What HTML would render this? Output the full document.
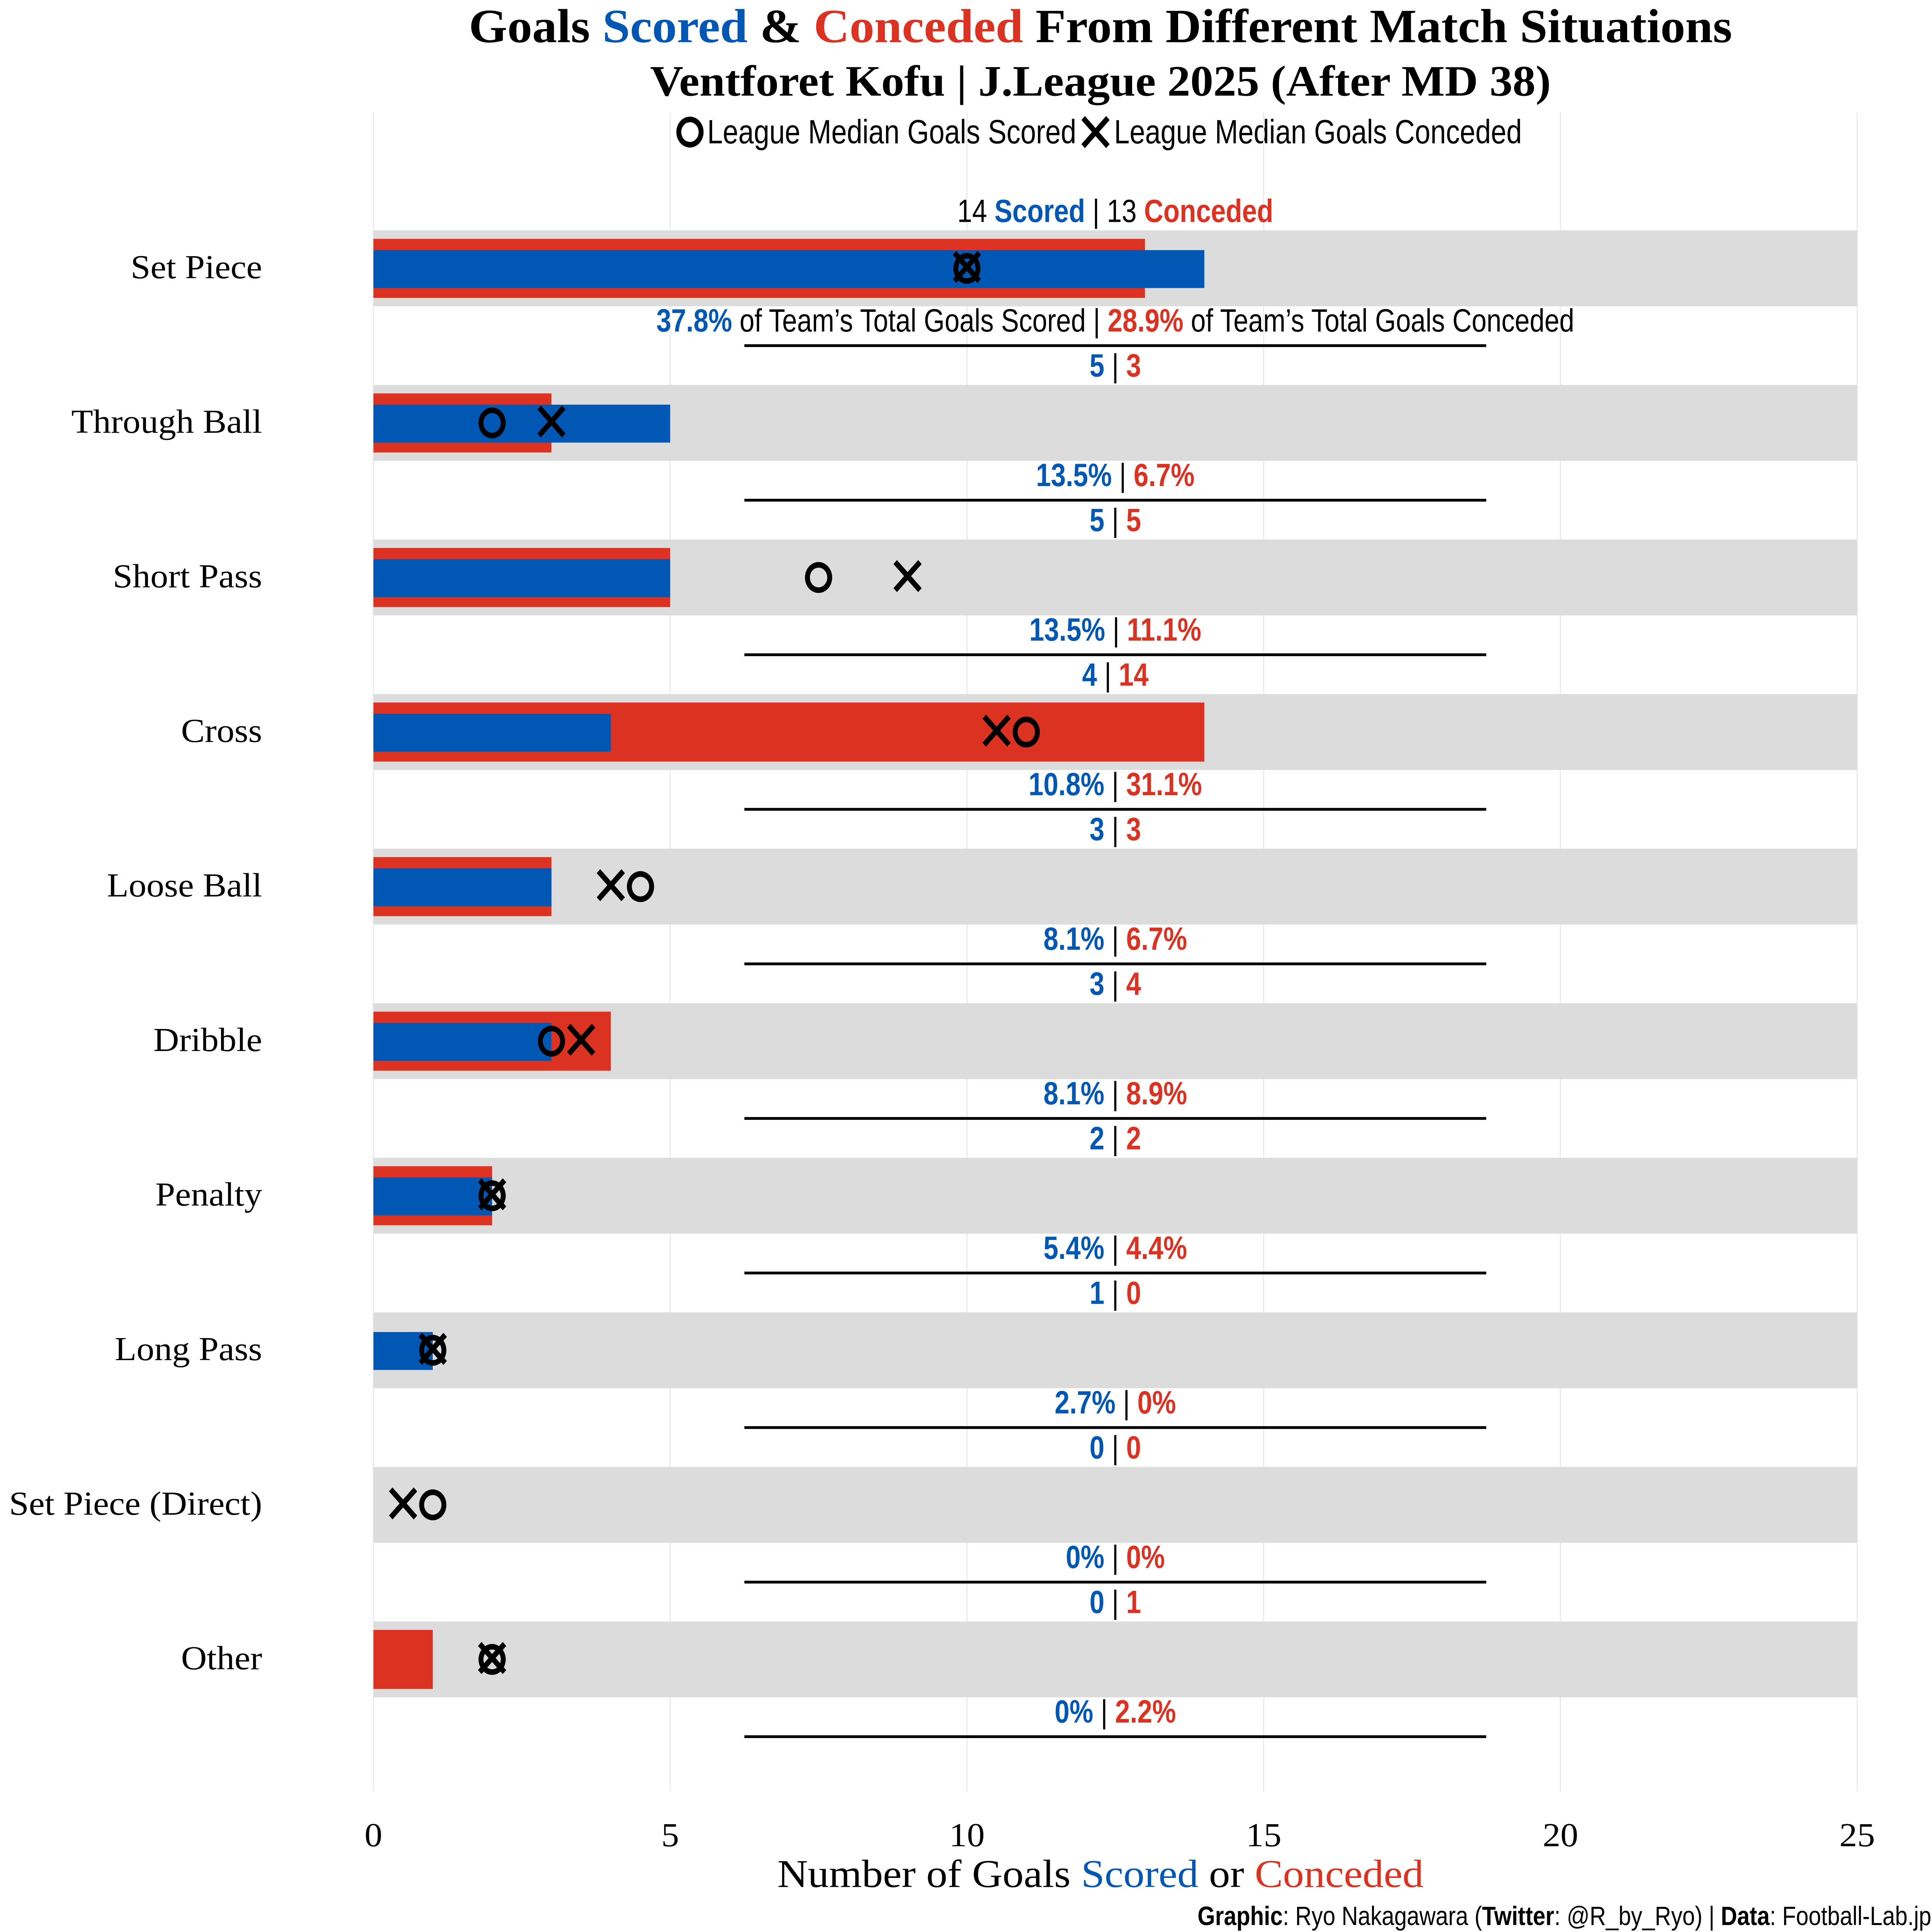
<!DOCTYPE html>
<html><head><meta charset="utf-8"><style>
html,body{margin:0;padding:0;background:#fff;overflow:hidden;width:100%;height:100%;}
svg{display:block;width:100vw;height:100vh;}
.serif{font-family:"Liberation Serif","DejaVu Serif",serif;}
.cond{font-family:"Liberation Sans Narrow","Liberation Sans",sans-serif;}
</style></head><body>
<svg id="chart" viewBox="0 0 1562.5 1375" preserveAspectRatio="none" xmlns="http://www.w3.org/2000/svg">
<text class="serif" transform="translate(890,30) scale(1.18,1)" text-anchor="middle" font-size="34" font-weight="bold">Goals <tspan fill="#0057b4">Scored</tspan> &amp; <tspan fill="#dc3222">Conceded</tspan> From Different Match Situations</text>
<text class="serif" transform="translate(890,68) scale(1.2,1)" text-anchor="middle" font-size="31" font-weight="bold">Ventforet Kofu | J.League 2025 (After MD 38)</text>
<g>
<circle cx="558" cy="94" r="9" fill="none" stroke="#000" stroke-width="4"/>
<text class="cond" transform="translate(572,102) scale(0.94,1)" font-size="24">League Median Goals Scored</text>
<path d="M876 84 L896 104 M896 84 L876 104" stroke="#000" stroke-width="4"/>
<text class="cond" transform="translate(901,102) scale(0.94,1)" font-size="24">League Median Goals Conceded</text>
</g>
<g id="grid"></g><g id="rows"></g><g id="xaxis"></g>
<text class="serif" transform="translate(890,1343) scale(1.22,1)" text-anchor="middle" font-size="28">Number of Goals <tspan fill="#0057b4">Scored</tspan> or <tspan fill="#dc3222">Conceded</tspan></text>
<text class="cond" transform="translate(1562,1370) scale(0.96,1)" text-anchor="end" font-size="19"><tspan font-weight="bold">Graphic</tspan>: Ryo Nakagawara (<tspan font-weight="bold">Twitter</tspan>: @R_by_Ryo) | <tspan font-weight="bold">Data</tspan>: Football-Lab.jp</text>
</svg>
<script>
const categories=["Set Piece","Through Ball","Short Pass","Cross","Loose Ball","Dribble","Penalty","Long Pass","Set Piece (Direct)","Other"];
const scored=[14,5,5,4,3,3,2,1,0,0];
const conceded=[13,3,5,14,3,4,2,0,0,1];
const medianScored=[10,2,7.5,11,4.5,3,2,1,1,2];
const medianConceded=[10,3,9,10.5,4,3.5,2,1,0.5,2];
const ticks=[0,5,10,15,20,25];
const NS="http://www.w3.org/2000/svg";
const X0=302,X1=1502,XMAX=25;
const xs=v=>X0+(X1-X0)*v/XMAX;
const yc=i=>190+110*i;
const BLUE="#0057b4",RED="#dc3222";
function mk(tag,attrs,parent,text){const e=document.createElementNS(NS,tag);for(const k in attrs)e.setAttribute(k,attrs[k]);if(text!==undefined)e.textContent=text;parent.appendChild(e);return e;}
const grid=document.getElementById('grid'),rows=document.getElementById('rows'),xaxis=document.getElementById('xaxis');
ticks.forEach(t=>{
 const l=mk('line',{x1:xs(t),x2:xs(t),y1:80,y2:1275,stroke:'#ebebeb','stroke-width':1},grid);
 
 
 const tx=mk('text',{transform:`translate(${xs(t)},1314) scale(1.2,1)`,'text-anchor':'middle','font-size':24,class:'serif'},xaxis,String(t));
 
 
});
const totS=scored.reduce((a,b)=>a+b,0),totC=conceded.reduce((a,b)=>a+b,0);
const pct=(v,t)=>v===0?'0%':(100*v/t).toFixed(1)+'%';
function spanT(parent,txt,fill,bold){const s=mk('tspan',{fill:fill},parent,txt);if(bold)s.setAttribute('font-weight','bold');return s;}
categories.forEach((c,i)=>{
 const y=yc(i);
 const g=mk('g',{},rows);
 
 
 const bg=mk('rect',{x:X0,y:y-26,width:X1-X0,height:54,fill:'#dcdcdc'},g);
 
 
 const rb=mk('rect',{x:X0,y:y-20,width:xs(conceded[i])-X0,height:42,fill:RED},g);
 
 
 const bb=mk('rect',{x:X0,y:y-12,width:xs(scored[i])-X0,height:27,fill:BLUE},g);
 
 
 const lab=mk('text',{transform:`translate(212,${y+8}) scale(1.2,1)`,'text-anchor':'end','font-size':24,class:'serif'},g,c);
 
 
 const mx=xs(medianConceded[i]);
 const cr=mk('path',{d:`M${mx-10} ${y-10} L${mx+10} ${y+10} M${mx+10} ${y-10} L${mx-10} ${y+10}`,stroke:'#000','stroke-width':4,fill:'none'},g);
 
 
 const ci=mk('circle',{cx:xs(medianScored[i]),cy:y+1,r:9,fill:'none',stroke:'#000','stroke-width':4},g);
 
 
 const top=mk('text',{transform:`translate(902,${y-32}) scale(0.94,1)`,'text-anchor':'middle','font-size':23,class:'cond'},g);
 
 
 const bot=mk('text',{transform:`translate(902,${y+46}) scale(0.94,1)`,'text-anchor':'middle','font-size':23,class:'cond'},g);
 
 
 if(i===0){
  spanT(top,scored[i]+' ','#000');spanT(top,'Scored',BLUE,true);spanT(top,' | '+conceded[i]+' ','#000');spanT(top,'Conceded',RED,true);
  spanT(bot,pct(scored[i],totS),BLUE,true);spanT(bot," of Team’s Total Goals Scored | ",'#000');spanT(bot,pct(conceded[i],totC),RED,true);spanT(bot," of Team’s Total Goals Conceded",'#000');
 } else {
  spanT(top,String(scored[i]),BLUE,true);spanT(top,' | ','#000');spanT(top,String(conceded[i]),RED,true);
  spanT(bot,pct(scored[i],totS),BLUE,true);spanT(bot,' | ','#000');spanT(bot,pct(conceded[i],totC),RED,true);
 }
 const sep=mk('line',{x1:602,x2:1202,y1:y+56,y2:y+56,stroke:'#000','stroke-width':2},g);
 
 
});
</script>
</body></html>
